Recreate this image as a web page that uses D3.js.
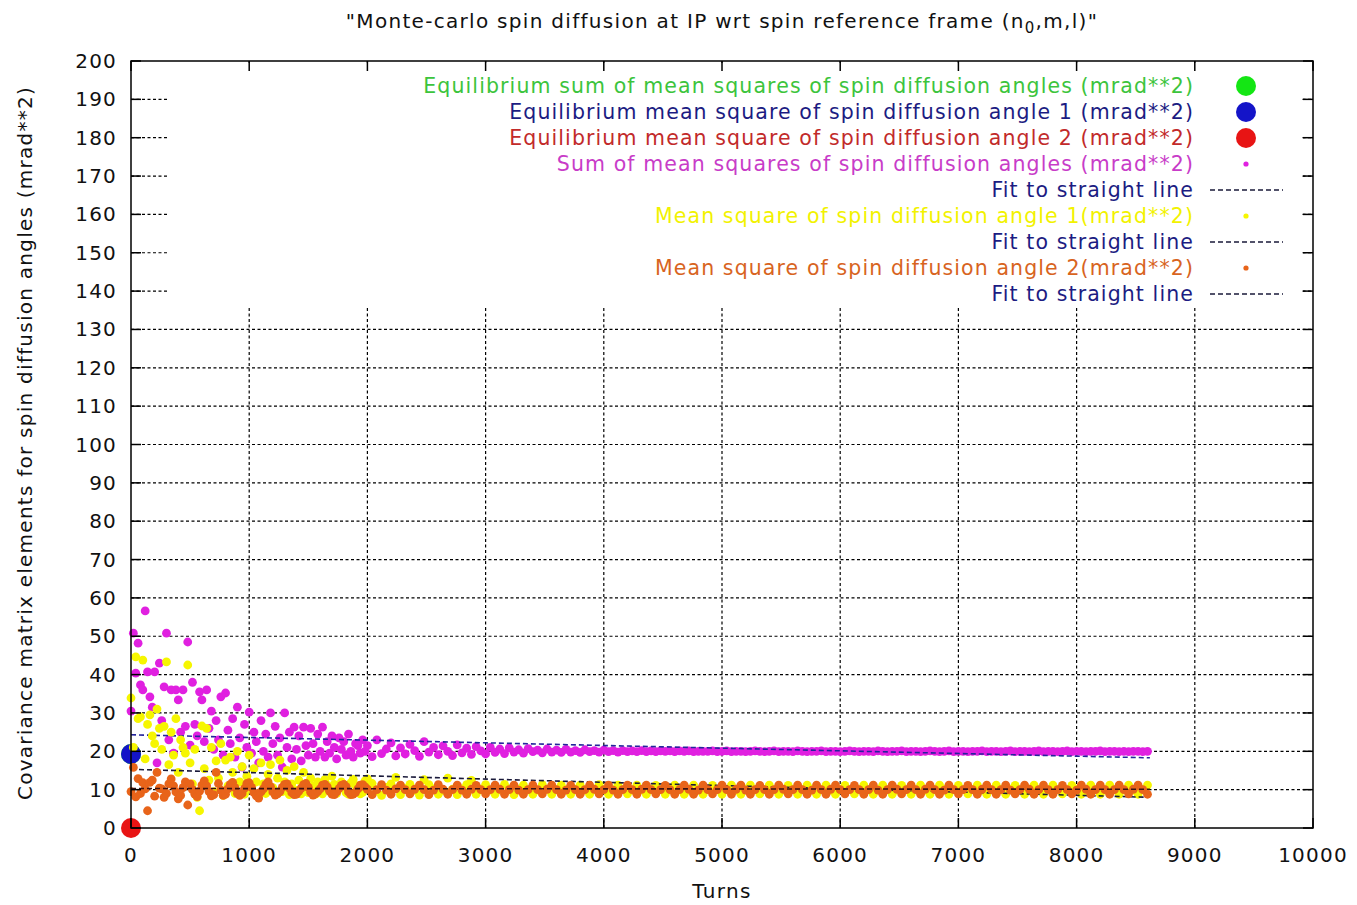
<!DOCTYPE html>
<html>
<head>
<meta charset="utf-8">
<script src="https://cdn.jsdelivr.net/npm/d3@7"></script>
<style>
  html, body { margin: 0; padding: 0; background: #fff; }
  svg { display: block; }
  text { font-family: "DejaVu Sans", "Liberation Sans", sans-serif; }
</style>
</head>
<body>
<svg id="chart" width="1357" height="905"></svg>
<script>
// Sampling grid in turns: every 20 turns up to 2000, every 40 turns afterwards
const turns = d3.range(0, 2000, 20).concat(d3.range(2000, 8601, 40));

// Sum of mean squares of spin diffusion angles (mrad**2)
const sumMeanSquares = [
  // 0 - 1980
  30.5, 50.8, 40.4, 48.2, 37.3, 36.0, 56.6, 40.7, 34.2, 31.5,
  40.7, 17.0, 43.0, 28.0, 36.8, 50.8, 23.0, 36.0, 19.5, 36.0,
  33.4, 25.0, 36.0, 26.5, 48.5, 21.6, 38.0, 27.0, 24.0, 35.5,
  33.4, 22.5, 36.0, 26.0, 30.5, 20.5, 28.0, 23.0, 34.2, 19.0,
  35.2, 25.5, 22.0, 28.5, 18.5, 31.5, 23.5, 15.9, 27.0, 21.0,
  30.2, 19.5, 25.0, 22.5, 17.0, 28.0, 20.0, 24.5, 18.5, 30.0,
  22.0, 26.5, 19.0, 23.5, 15.9, 30.0, 21.0, 25.0, 18.0, 26.3,
  20.5, 24.0, 17.5, 26.3, 21.5, 19.0, 26.0, 22.0, 18.5, 24.5,
  20.0, 26.3, 18.5, 22.5, 19.5, 24.0, 21.0, 18.0, 23.5, 20.5,
  22.5, 19.0, 24.5, 20.0, 18.5, 22.0, 21.5, 19.5, 23.0, 20.0,
  // 2000 - 8600
  21.5, 18.6, 23.0, 19.4, 20.6, 22.2, 18.8, 20.9,
  19.3, 21.8, 20.2, 18.7, 22.5, 19.8, 21.0, 19.1,
  21.4, 20.0, 18.9, 21.7, 19.6, 20.8, 19.2, 21.2,
  20.1, 19.3, 21.0, 19.7, 20.6, 19.4, 20.9, 19.8,
  20.4, 19.5, 20.7, 19.9, 20.3, 19.6, 20.6, 19.8,
  20.3, 19.7, 20.5, 19.8, 20.2, 19.7, 20.4, 19.9,
  20.2, 19.8, 20.3, 19.9, 20.2, 19.8, 20.2, 19.9,
  20.1, 19.9, 20.2, 19.9, 20.1, 19.9, 20.1, 20.0,
  20.1, 19.9, 20.1, 20.0, 20.1, 19.9, 20.0, 20.0,
  20.0, 20.1, 19.9, 20.0, 20.1, 19.9, 20.0, 20.0,
  19.9, 20.0, 20.1, 20.0, 19.9, 20.0, 20.1, 19.9,
  20.0, 20.0, 19.9, 20.1, 20.0, 19.9, 20.0, 20.0,
  20.1, 19.9, 20.0, 20.0, 19.9, 20.0, 20.1, 20.0,
  19.9, 20.0, 20.0, 19.9, 20.1, 20.0, 19.9, 20.0,
  20.0, 20.1, 19.9, 20.0, 20.0, 19.9, 20.0, 20.1,
  20.0, 19.9, 20.0, 20.1, 19.9, 20.0, 20.0, 19.9,
  20.0, 20.0, 20.1, 19.9, 20.0, 20.0, 19.9, 20.0,
  20.1, 19.9, 20.0, 20.0, 19.9, 20.0, 20.1, 19.9,
  20.0, 20.0, 19.9, 20.0, 20.1, 19.9, 20.0, 20.0,
  19.9, 20.0, 20.0, 20.1, 19.9, 20.0, 20.0, 19.9,
  20.0, 19.9, 20.0, 20.0, 19.9, 20.0
];

// Mean square of spin diffusion angle 1 (mrad**2)
const meanSquareAngle1 = [
  // 0 - 1980
  33.9, 21.0, 44.6, 28.5, 29.0, 43.8, 18.0, 27.0, 29.5, 24.0,
  22.0, 31.0, 26.0, 20.5, 26.5, 43.3, 16.5, 25.0, 19.0, 28.5,
  14.5, 23.0, 21.0, 19.5, 42.5, 17.0, 11.5, 20.5, 8.0, 4.5,
  26.6, 15.5, 26.0, 12.5, 21.0, 9.5, 17.5, 13.0, 22.0, 8.5,
  17.7, 11.0, 18.5, 14.5, 9.0, 20.0, 12.0, 16.0, 8.8, 13.5,
  19.0, 10.0, 15.5, 12.0, 8.5, 17.0, 11.5, 9.0, 14.0, 16.5,
  10.5, 8.8, 13.0, 17.7, 9.5, 12.0, 15.0, 8.7, 11.5, 16.0,
  9.8, 12.5, 8.9, 14.5, 10.5, 9.2, 13.0, 11.0, 8.8, 12.0,
  10.0, 8.9, 12.6, 11.2, 9.6, 13.5, 11.4, 9.0, 10.2, 12.0,
  11.4, 9.2, 8.8, 11.8, 12.7, 11.1, 9.5, 8.9, 9.3, 12.3,
  // 2000 - 8600
  12.8, 11.6, 9.6, 8.5, 10.6, 11.5, 13.2, 8.7,
  10.3, 11.4, 9.8, 8.6, 12.6, 11.3, 10.2, 8.8,
  9.8, 13.0, 10.1, 8.7, 10.2, 11.3, 12.4, 8.8,
  10.1, 11.3, 9.9, 8.8, 10.0, 11.4, 10.2, 8.7,
  10.1, 11.2, 10.0, 8.8, 9.9, 11.3, 10.1, 8.8,
  10.0, 11.2, 10.0, 8.8, 10.1, 11.2, 9.9, 8.8,
  10.0, 11.3, 10.0, 8.8, 10.0, 11.2, 10.0, 8.9,
  9.9, 11.2, 10.0, 8.8, 10.0, 11.1, 10.0, 8.8,
  10.0, 11.2, 10.1, 8.8, 9.9, 11.2, 10.0, 8.8,
  10.0, 11.1, 10.0, 8.8, 10.0, 11.2, 9.9, 8.8,
  10.1, 11.2, 10.0, 8.9, 10.0, 11.2, 10.0, 8.8,
  9.9, 11.1, 10.0, 8.8, 10.0, 11.2, 10.1, 8.8,
  10.0, 11.2, 9.9, 8.8, 10.0, 11.1, 10.0, 8.9,
  10.0, 11.2, 10.0, 8.8, 10.1, 11.2, 10.0, 8.8,
  9.9, 11.1, 10.0, 8.8, 10.0, 11.2, 9.9, 8.8,
  10.0, 11.2, 10.1, 8.8, 10.0, 11.1, 10.0, 8.9,
  10.0, 11.2, 9.9, 8.8, 10.0, 11.2, 10.0, 8.8,
  10.1, 11.1, 10.0, 8.8, 9.9, 11.2, 10.0, 8.8,
  10.0, 11.2, 10.0, 8.9, 10.0, 11.1, 10.1, 8.8,
  9.9, 11.2, 10.0, 8.8, 10.0, 11.2, 10.0, 8.8,
  10.0, 11.2, 9.9, 8.8, 10.0, 11.2
];

// Mean square of spin diffusion angle 2 (mrad**2)
const meanSquareAngle2 = [
  // 0 - 1980
  9.5, 15.8, 8.1, 12.9, 9.0, 11.8, 10.2, 4.5,
  11.9, 12.5, 8.3, 14.5, 10.4, 10.2, 8.0, 9.0,
  11.5, 12.8, 11.0, 9.4, 7.6, 8.5, 10.5, 12.0,
  6.0, 11.5, 10.0, 8.8, 8.2, 9.6, 11.2, 12.3,
  11.0, 9.5, 8.4, 8.7, 14.5, 11.6, 9.9, 8.5,
  8.8, 10.2, 11.4, 11.9, 10.5, 9.0, 8.5, 9.0,
  10.3, 11.6, 11.8, 10.6, 9.2, 8.4, 7.8, 9.4,
  10.2, 11.3, 12.0, 10.8, 9.4, 8.6, 8.9, 9.5,
  10.6, 11.4, 11.5, 10.4, 9.2, 8.7, 8.8, 9.6,
  10.4, 11.3, 11.6, 10.6, 9.3, 8.6, 8.9, 9.5,
  10.2, 11.2, 11.4, 10.7, 9.6, 8.8, 8.7, 9.4,
  10.3, 11.1, 11.4, 10.8, 9.4, 8.7, 8.8, 9.3,
  10.2, 11.2, 11.3, 10.7,
  // 2000 - 8600
  10.1, 8.7, 10.0, 11.3, 9.9, 8.8, 10.2, 11.2,
  10.0, 8.9, 10.1, 11.2, 10.0, 8.7, 9.9, 11.3,
  10.1, 8.8, 10.0, 11.2, 9.9, 8.8, 10.1, 11.1,
  10.0, 8.9, 10.0, 11.2, 10.1, 8.8, 10.0, 11.2,
  9.9, 8.8, 10.0, 11.2, 10.0, 8.9, 10.1, 11.2,
  10.0, 8.8, 9.9, 11.1, 10.0, 8.8, 10.0, 11.2,
  10.1, 8.9, 10.0, 11.2, 9.9, 8.8, 10.0, 11.2,
  10.0, 8.8, 10.1, 11.2, 10.0, 8.9, 10.0, 11.1,
  10.0, 8.8, 10.0, 11.2, 10.1, 8.8, 9.9, 11.2,
  10.0, 8.9, 10.0, 11.2, 10.0, 8.8, 10.1, 11.2,
  9.9, 8.8, 10.0, 11.1, 10.0, 8.8, 10.0, 11.2,
  10.1, 8.9, 10.0, 11.2, 10.0, 8.8, 9.9, 11.2,
  10.0, 8.8, 10.1, 11.2, 10.0, 8.9, 10.0, 11.1,
  10.0, 8.8, 10.0, 11.2, 9.9, 8.8, 10.0, 11.2,
  10.1, 8.9, 10.0, 11.2, 10.0, 8.8, 10.1, 11.2,
  10.0, 8.8, 9.9, 11.2, 10.0, 8.9, 10.0, 11.1,
  10.0, 8.8, 10.1, 11.2, 10.0, 8.8, 10.0, 11.2,
  9.9, 8.9, 10.0, 11.2, 10.1, 8.8, 10.0, 11.2,
  10.0, 8.8, 10.0, 11.1, 10.0, 8.9, 9.9, 11.2,
  10.1, 8.8, 10.0, 11.2, 10.0, 8.8, 10.0, 11.2,
  10.0, 8.9, 10.1, 11.2, 10.0, 8.8
];

// Equilibrium values, plotted at turn 0
const equilibriumTurn = 0;
const equilibriumSum = 19.3;
const equilibriumAngle1 = 19.3;
const equilibriumAngle2 = 0;

// Straight-line fits, given at their end points
const fitTurns = [0, 8620];
const fitSum = [24.3, 18.3];
const fitAngle1 = [15.3, 8.0];
const fitAngle2 = [10.3, 10.1];

// Axis ticks
const xTickValues = [0, 1000, 2000, 3000, 4000, 5000, 6000, 7000, 8000, 9000, 10000];
const yTickValues = [0, 10, 20, 30, 40, 50, 60, 70, 80, 90, 100, 110, 120, 130, 140, 150, 160, 170, 180, 190, 200];

// Key entries: label, text colour, sample kind
const keyLabels = [
  "Equilibrium sum of mean squares of spin diffusion angles (mrad**2)",
  "Equilibrium mean square of spin diffusion angle 1 (mrad**2)",
  "Equilibrium mean square of spin diffusion angle 2 (mrad**2)",
  "Sum of mean squares of spin diffusion angles (mrad**2)",
  "Fit to straight line",
  "Mean square of spin diffusion angle 1(mrad**2)",
  "Fit to straight line",
  "Mean square of spin diffusion angle 2(mrad**2)",
  "Fit to straight line"
];
const keyTextColors = ["#3cc43c", "#1c1c82", "#c22a2a", "#c83cc8", "#1c1c82", "#f2f200", "#1c1c82", "#d8641e", "#1c1c82"];
const keySampleKinds = ["bigdot", "bigdot", "bigdot", "dot", "dash", "dot", "dash", "dot", "dash"];

const colors = {
  eqSum: "#14e614",
  eqAngle1: "#1414c8",
  eqAngle2: "#e81414",
  sum: "#e020e0",
  angle1: "#f6f600",
  angle2: "#e8641a",
  fitSum: "#24249c",
  fitAngle1: "#1a1a3a",
  fitAngle2: "#3a1212"
};
const keySampleColors = [colors.eqSum, colors.eqAngle1, colors.eqAngle2, colors.sum, "#1a1a3a", colors.angle1, "#1a1a3a", colors.angle2, "#1a1a3a"];

// ---- layout ----
const W = 1357, H = 905;
const margin = { left: 131, right: 44, top: 61, bottom: 77 };
const svg = d3.select("#chart");

const x = d3.scaleLinear().domain([0, 10000]).range([margin.left, W - margin.right]);
const y = d3.scaleLinear().domain([0, 200]).range([H - margin.bottom, margin.top]);
const x0 = x.range()[0], x1 = x.range()[1], yb = y.range()[0], yt = y.range()[1];

// grid
const grid = svg.append("g").attr("stroke", "#000").attr("stroke-width", 1.2).attr("stroke-dasharray", "3,2.5");
grid.selectAll("line.gx").data(xTickValues.slice(1, -1)).join("line")
  .attr("x1", d => x(d)).attr("x2", d => x(d)).attr("y1", yb).attr("y2", yt);
grid.selectAll("line.gy").data(yTickValues.slice(1, -1)).join("line")
  .attr("x1", x0).attr("x2", x1).attr("y1", d => y(d)).attr("y2", d => y(d));

// opaque key area
const keyBox = { left: 168, right: 1302, top: 63, bottom: 306 };
svg.append("rect")
  .attr("x", keyBox.left).attr("y", keyBox.top)
  .attr("width", keyBox.right - keyBox.left).attr("height", keyBox.bottom - keyBox.top)
  .attr("fill", "#fff");

const plot = svg.append("g");

// equilibrium markers
[[equilibriumSum, colors.eqSum], [equilibriumAngle1, colors.eqAngle1], [equilibriumAngle2, colors.eqAngle2]]
  .forEach(([v, c]) => {
    plot.append("circle").attr("cx", x(equilibriumTurn)).attr("cy", y(v)).attr("r", 10).attr("fill", c);
  });

function scatter(values, color) {
  plot.append("g").attr("fill", color)
    .selectAll("circle").data(values).join("circle")
    .attr("cx", (d, i) => x(turns[i]))
    .attr("cy", d => y(d))
    .attr("r", 4.4);
}
function fitLine(values, color) {
  plot.append("line")
    .attr("x1", x(fitTurns[0])).attr("x2", x(fitTurns[1]))
    .attr("y1", y(values[0])).attr("y2", y(values[1]))
    .attr("stroke", color).attr("stroke-width", 1.6).attr("stroke-dasharray", "5,3");
}

scatter(sumMeanSquares, colors.sum);
fitLine(fitSum, colors.fitSum);
scatter(meanSquareAngle1, colors.angle1);
fitLine(fitAngle1, colors.fitAngle1);
scatter(meanSquareAngle2, colors.angle2);
fitLine(fitAngle2, colors.fitAngle2);

// border and inward ticks on all four sides
const axes = svg.append("g").attr("stroke", "#000").attr("stroke-width", 1.5);
axes.append("rect").attr("x", x0).attr("y", yt).attr("width", x1 - x0).attr("height", yb - yt).attr("fill", "none");
const tl = 10;
xTickValues.forEach(v => {
  axes.append("line").attr("x1", x(v)).attr("x2", x(v)).attr("y1", yb).attr("y2", yb - tl);
  axes.append("line").attr("x1", x(v)).attr("x2", x(v)).attr("y1", yt).attr("y2", yt + tl);
});
yTickValues.forEach(v => {
  axes.append("line").attr("x1", x0).attr("x2", x0 + tl).attr("y1", y(v)).attr("y2", y(v));
  axes.append("line").attr("x1", x1).attr("x2", x1 - tl).attr("y1", y(v)).attr("y2", y(v));
});

// tick labels
const fs = 20;
svg.append("g").selectAll("text").data(xTickValues).join("text")
  .attr("x", d => x(d)).attr("y", yb + 34)
  .attr("text-anchor", "middle").attr("font-size", fs).attr("letter-spacing", 1.2).attr("fill", "#111")
  .text(d => d);
svg.append("g").selectAll("text").data(yTickValues).join("text")
  .attr("x", x0 - 14).attr("y", d => y(d) + 7)
  .attr("text-anchor", "end").attr("font-size", fs).attr("letter-spacing", 1.2).attr("fill", "#111")
  .text(d => d);

// key
const keyRight = 1194, keyRowTop = 86, keyRowStep = 26;
const key = svg.append("g");
keyLabels.forEach((label, i) => {
  const cy = keyRowTop + i * keyRowStep;
  key.append("text")
    .attr("x", keyRight).attr("y", cy + 7)
    .attr("text-anchor", "end").attr("font-size", 20.5).attr("letter-spacing", 1.1)
    .attr("fill", keyTextColors[i])
    .text(label);
  const kind = keySampleKinds[i];
  if (kind === "bigdot") {
    key.append("circle").attr("cx", 1246).attr("cy", cy).attr("r", 10).attr("fill", keySampleColors[i]);
  } else if (kind === "dot") {
    key.append("circle").attr("cx", 1246).attr("cy", cy).attr("r", 2.6).attr("fill", keySampleColors[i]);
  } else {
    key.append("line").attr("x1", 1210).attr("x2", 1283).attr("y1", cy).attr("y2", cy)
      .attr("stroke", keySampleColors[i]).attr("stroke-width", 1.6).attr("stroke-dasharray", "5,3");
  }
});

// titles
const title = svg.append("text").attr("x", 722).attr("y", 28)
  .attr("text-anchor", "middle").attr("font-size", 20).attr("letter-spacing", 1.3).attr("fill", "#111");
title.append("tspan").text("\"Monte-carlo spin diffusion at IP wrt spin reference frame (n");
title.append("tspan").attr("dy", 5).attr("font-size", 15).text("0");
title.append("tspan").attr("dy", -5).text(",m,l)\"");

svg.append("text").attr("x", 722).attr("y", 898)
  .attr("text-anchor", "middle").attr("font-size", fs).attr("letter-spacing", 1.3).attr("fill", "#111")
  .text("Turns");

svg.append("text")
  .attr("transform", "translate(32,443) rotate(-90)")
  .attr("text-anchor", "middle").attr("font-size", fs).attr("letter-spacing", 1.25).attr("fill", "#111")
  .text("Covariance matrix elements for spin diffusion angles (mrad**2)");
</script>
</body>
</html>
